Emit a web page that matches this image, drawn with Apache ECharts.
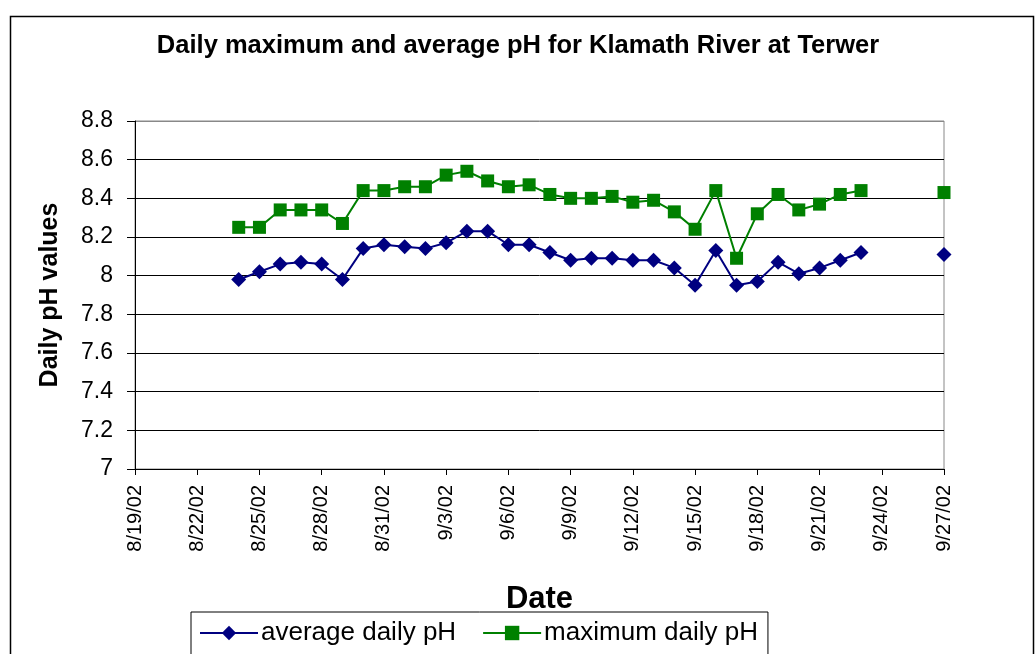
<!DOCTYPE html>
<html>
<head>
<meta charset="utf-8">
<script src="https://cdn.jsdelivr.net/npm/echarts@6/dist/echarts.min.js"></script>
<style>
  html, body { margin: 0; padding: 0; background: #fff; }
  #chart { width: 1036px; height: 654px; }
</style>
</head>
<body>
<div id="chart"></div>
<script>
// Dates on the x axis, one per day
const dates = [
  '8/19/02', '8/20/02', '8/21/02', '8/22/02', '8/23/02', '8/24/02', '8/25/02', '8/26/02',
  '8/27/02', '8/28/02', '8/29/02', '8/30/02', '8/31/02', '9/1/02', '9/2/02', '9/3/02',
  '9/4/02', '9/5/02', '9/6/02', '9/7/02', '9/8/02', '9/9/02', '9/10/02', '9/11/02',
  '9/12/02', '9/13/02', '9/14/02', '9/15/02', '9/16/02', '9/17/02', '9/18/02', '9/19/02',
  '9/20/02', '9/21/02', '9/22/02', '9/23/02', '9/24/02', '9/25/02', '9/26/02', '9/27/02'
];

// Average daily pH ('-' = no reading)
const averagePH = [
  '-', '-', '-', '-', '-',
  7.98, 8.02, 8.06, 8.07, 8.06, 7.98, 8.14, 8.16,
  8.15, 8.14, 8.17, 8.23, 8.23, 8.16, 8.16, 8.12, 8.08, 8.09, 8.09, 8.08,
  8.08, 8.04, 7.95, 8.13, 7.95, 7.97, 8.07, 8.01, 8.04, 8.08, 8.12,
  '-', '-', '-',
  8.11
];

// Maximum daily pH ('-' = no reading)
const maximumPH = [
  '-', '-', '-', '-', '-',
  8.25, 8.25, 8.34, 8.34, 8.34, 8.27, 8.44, 8.44,
  8.46, 8.46, 8.52, 8.54, 8.49, 8.46, 8.47, 8.42, 8.40, 8.40, 8.41, 8.38,
  8.39, 8.33, 8.24, 8.44, 8.09, 8.32, 8.42, 8.34, 8.37, 8.42, 8.44,
  '-', '-', '-',
  8.43
];

const FONT = "'Liberation Sans', Arial, Helvetica, sans-serif";

const chart = echarts.init(document.getElementById('chart'), null, { renderer: 'canvas' });

// one gray line at the top of the plot, black for the rest
const gridColors = ['#000', '#000', '#000', '#000', '#000', '#000', '#000', '#000', '#000', '#888'];

chart.setOption({
  backgroundColor: '#fff',
  animation: false,
  textStyle: { fontFamily: FONT },
  title: {
    text: 'Daily maximum and average pH for Klamath River at Terwer',
    left: 'center',
    top: 28,
    textStyle: { fontFamily: FONT, fontSize: 25.5, fontWeight: 'bold', color: '#000' }
  },
  graphic: [{
    type: 'rect',
    left: 8, top: 14,
    shape: { width: 1023, height: 700 },
    style: { fill: 'none', stroke: '#000', lineWidth: 1.5 },
    silent: true, z: -1
  }],
  legend: {
    left: 191,
    top: 612,
    orient: 'horizontal',
    itemWidth: 58,
    itemHeight: 18,
    itemGap: 26,
    padding: [8, 10, 14, 8],
    borderColor: '#000',
    borderWidth: 1,
    textStyle: { fontFamily: FONT, fontSize: 26, color: '#000', padding: [0, 0, 0, -2] },
    data: ['average daily pH', 'maximum daily pH']
  },
  grid: {
    left: 135, right: 92, top: 121, bottom: 185,
    show: true,
    borderColor: '#888',
    borderWidth: 1,
    backgroundColor: '#fff'
  },
  xAxis: {
    type: 'category',
    data: dates,
    boundaryGap: false,
    name: 'Date',
    nameLocation: 'middle',
    nameGap: 115,
    nameTextStyle: { fontFamily: FONT, fontSize: 31, fontWeight: 'bold', color: '#000' },
    axisLine: { lineStyle: { color: '#000', width: 1 } },
    axisTick: { interval: 2, length: 6, lineStyle: { color: '#000' } },
    axisLabel: {
      interval: 2,
      rotate: 90,
      margin: 16,
      fontFamily: FONT,
      fontSize: 20,
      color: '#000'
    },
    splitLine: { show: false }
  },
  yAxis: {
    type: 'value',
    min: 7,
    max: 8.8,
    interval: 0.2,
    name: 'Daily pH values',
    nameLocation: 'middle',
    nameGap: 72,
    nameTextStyle: { fontFamily: FONT, fontSize: 25, fontWeight: 'bold', color: '#000' },
    axisLine: { show: true, lineStyle: { color: '#000', width: 1 } },
    axisTick: { show: true, length: 8, lineStyle: { color: '#000' } },
    axisLabel: {
      margin: 22,
      fontFamily: FONT,
      fontSize: 23,
      color: '#000',
      formatter: v => String(+v.toFixed(1))
    },
    splitLine: { show: true, lineStyle: { color: gridColors, width: 1 } }
  },
  series: [
    {
      name: 'average daily pH',
      type: 'line',
      data: averagePH,
      connectNulls: false,
      symbol: 'diamond',
      symbolSize: 15,
      showAllSymbol: true,
      itemStyle: { color: '#000080' },
      lineStyle: { color: '#000080', width: 2 },
      z: 3
    },
    {
      name: 'maximum daily pH',
      type: 'line',
      data: maximumPH,
      connectNulls: false,
      symbol: 'rect',
      symbolSize: 13,
      showAllSymbol: true,
      itemStyle: { color: '#008000' },
      lineStyle: { color: '#008000', width: 2 },
      z: 3
    }
  ]
});
</script>
</body>
</html>
